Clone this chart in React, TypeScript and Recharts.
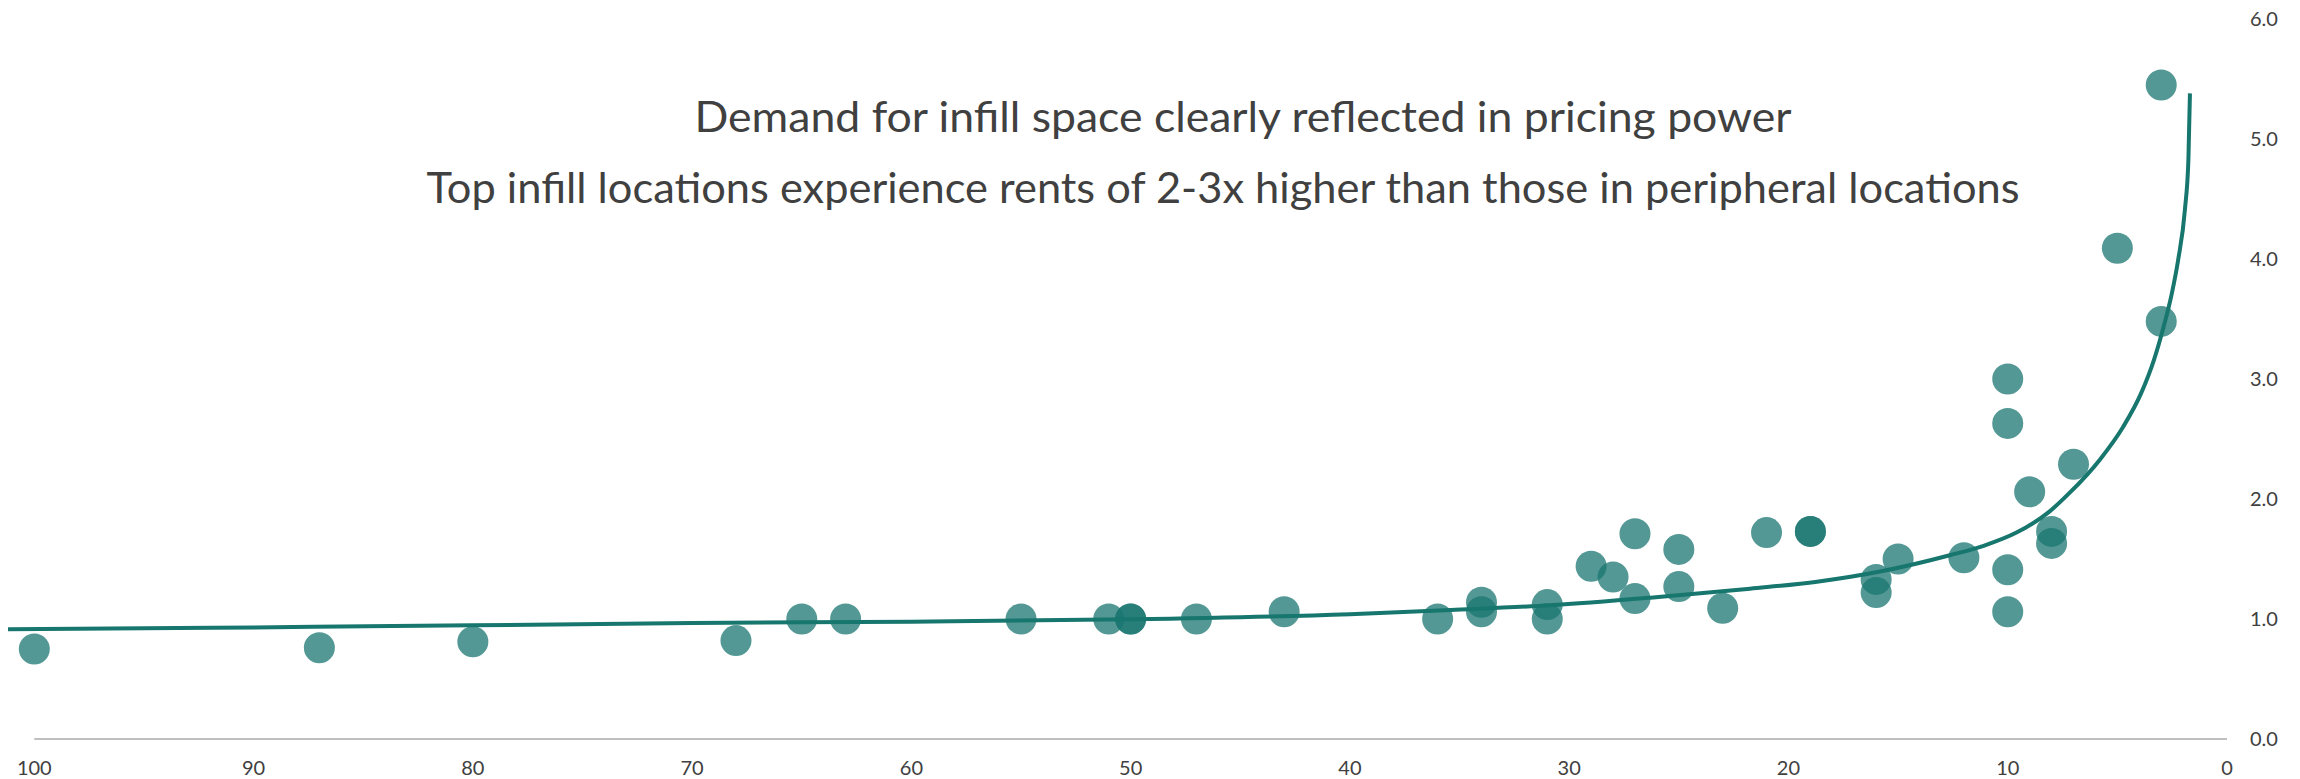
import React from 'react';
import { ScatterChart, Scatter, XAxis, YAxis, ReferenceLine } from 'recharts';

// Location rank (100 = most peripheral, 0 = most central) against relative rent
const rankX = [100, 87, 80, 68, 65, 63, 55, 51, 50, 50, 47, 43, 36, 34, 34, 31, 31, 29, 28, 27, 27, 25, 25, 23, 21, 19, 19, 16, 16, 15, 12, 10, 10, 10, 10, 9, 8, 8, 7, 5, 3, 3];
const rentIndex = [0.75, 0.76, 0.81, 0.82, 1.0, 1.0, 1.0, 1.0, 1.0, 1.0, 1.0, 1.06, 1.0, 1.14, 1.06, 1.12, 1.0, 1.44, 1.35, 1.71, 1.17, 1.58, 1.27, 1.09, 1.72, 1.73, 1.73, 1.33, 1.22, 1.5, 1.51, 3.0, 2.63, 1.41, 1.06, 2.06, 1.73, 1.63, 2.29, 4.09, 5.45, 3.48];

// Fitted trend curve
const trendX = [101.2, 90, 80, 70, 60, 50, 40, 35.4, 30.9, 26.3, 21.75, 18.7, 15.7, 12.6, 11.1, 9.6, 8.1, 7.24, 5.79, 4.74, 3.92, 3.33, 2.9, 2.52, 2.23, 1.92, 1.76, 1.69];
const trendY = [0.914, 0.93, 0.947, 0.967, 0.978, 0.997, 1.04, 1.075, 1.114, 1.178, 1.253, 1.311, 1.4, 1.533, 1.61, 1.72, 1.895, 2.04, 2.33, 2.6, 2.88, 3.16, 3.43, 3.71, 3.99, 4.41, 4.83, 5.38];

const xTicks = [0, 10, 20, 30, 40, 50, 60, 70, 80, 90, 100];
const yTicks = [0, 1, 2, 3, 4, 5, 6];

const titleLines = [
  'Demand for infill space clearly reflected in pricing power',
  'Top infill locations experience rents of 2-3x higher than those in peripheral locations',
];

const TEAL = '#17766d';
const TEXT = '#404040';
const FONT = 'Lato, "Open Sans", sans-serif';

const points = rankX.map((x, i) => ({ x, y: rentIndex[i] }));
const trend = trendX.map((x, i) => ({ x, y: trendY[i] }));

const Dot = (props: any) => {
  const { cx, cy } = props;
  if (cx == null || cy == null) return <g />;
  return <circle cx={cx} cy={cy} r={15.5} fill="#1a7670" fillOpacity={0.75} />;
};

const NoDot = () => <g />;

export default function App() {
  return (
    <div style={{ position: 'absolute', left: 0, top: 0, width: 2300, height: 779, background: '#fff' }}>
      <ScatterChart width={2300} height={779} margin={{ top: 19, right: 13, bottom: 0, left: 8 }}>
        <XAxis
          type="number"
          dataKey="x"
          domain={[0, 101.2]}
          reversed
          ticks={xTicks}
          axisLine={false}
          tickLine={false}
          tickMargin={16}
          height={40}
          allowDataOverflow
          tick={{ fill: TEXT, fontSize: 20, fontFamily: FONT }}
        />
        <YAxis
          type="number"
          dataKey="y"
          orientation="right"
          domain={[0, 6]}
          ticks={yTicks}
          width={60}
          axisLine={false}
          tickLine={false}
          tickMargin={17}
          tickFormatter={(v: number) => v.toFixed(1)}
          tick={{ fill: TEXT, fontSize: 20, fontFamily: FONT }}
        />
        <ReferenceLine
          segment={[{ x: 100, y: 0 }, { x: 0, y: 0 }]}
          stroke="#bfbfbf"
          strokeWidth={2}
          ifOverflow="visible"
        />
        <Scatter data={points} shape={Dot} isAnimationActive={false} />
        <Scatter
          data={trend}
          shape={NoDot}
          line={{ stroke: TEAL, strokeWidth: 4 }}
          lineType="joint"
          lineJointType="monotoneX"
          isAnimationActive={false}
        />
      </ScatterChart>
      <svg
        width={2300}
        height={779}
        style={{ position: 'absolute', left: 0, top: 0, pointerEvents: 'none' }}
      >
        <text
          x={1243}
          y={132}
          textAnchor="middle"
          fontFamily={FONT}
          fontSize={42}
          fill={TEXT}
          textLength={1097}
          lengthAdjust="spacingAndGlyphs"
        >
          {titleLines[0]}
        </text>
        <text
          x={1223}
          y={203}
          textAnchor="middle"
          fontFamily={FONT}
          fontSize={42}
          fill={TEXT}
          textLength={1593}
          lengthAdjust="spacingAndGlyphs"
        >
          {titleLines[1]}
        </text>
      </svg>
    </div>
  );
}
